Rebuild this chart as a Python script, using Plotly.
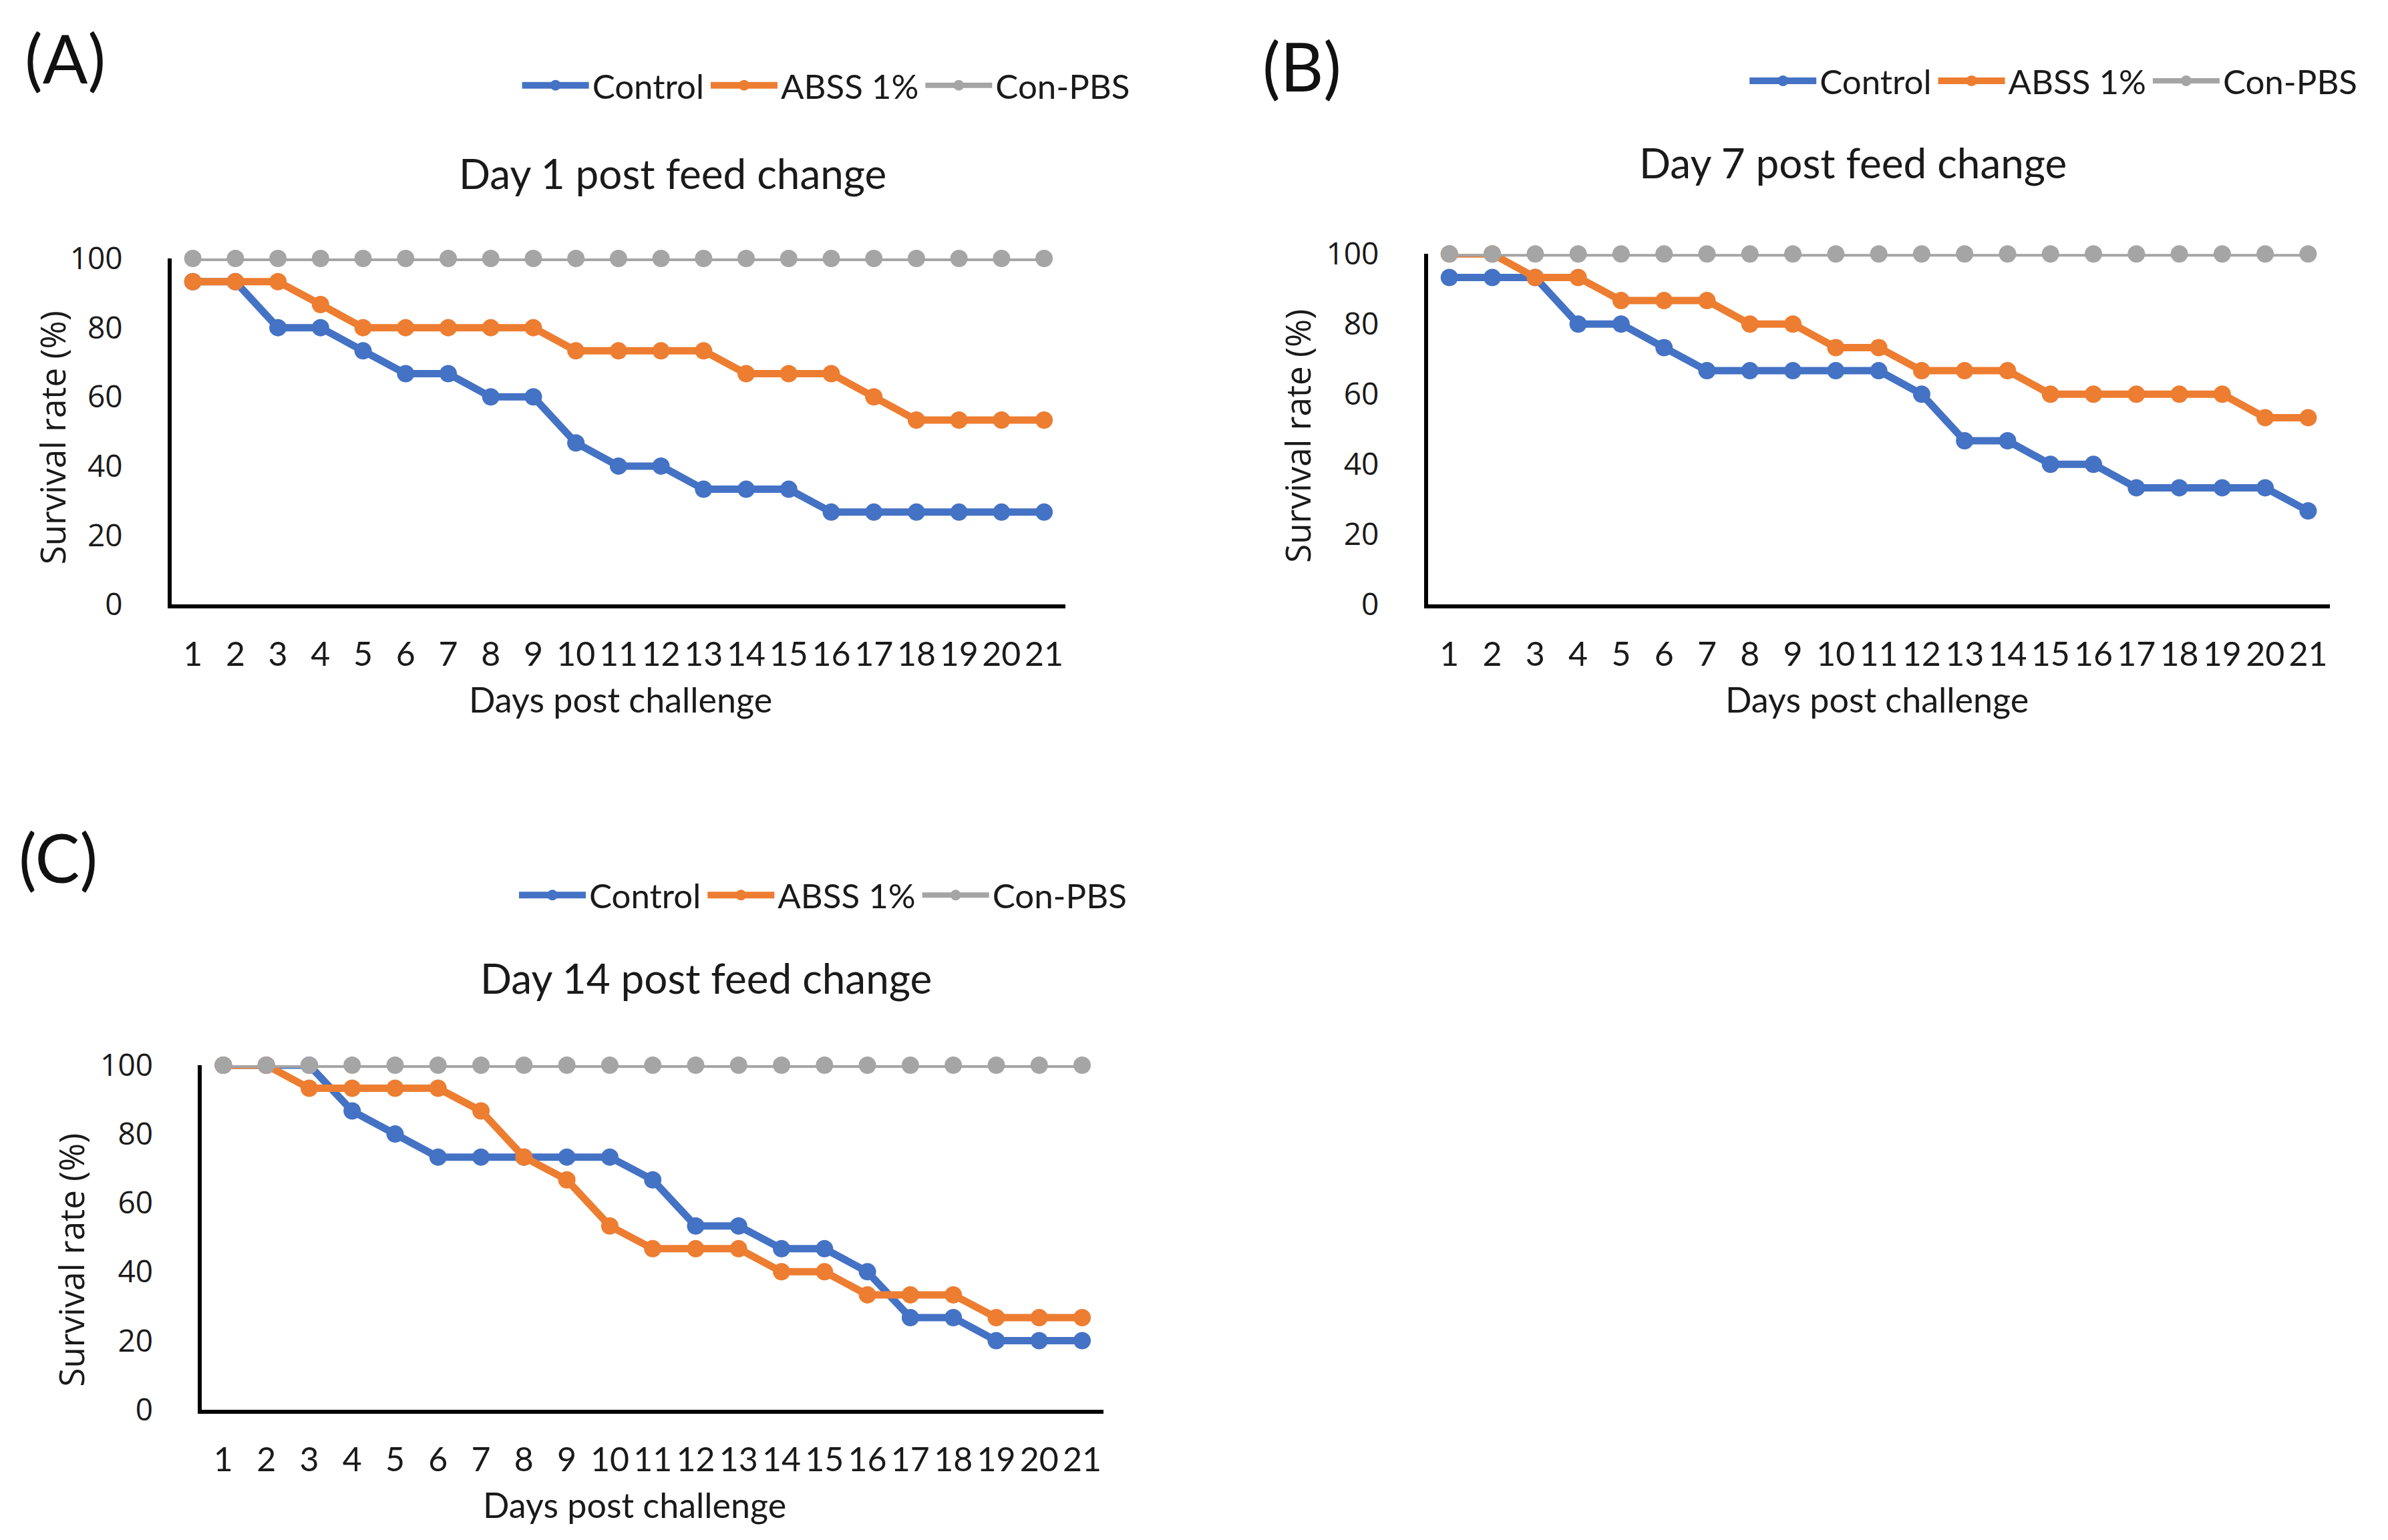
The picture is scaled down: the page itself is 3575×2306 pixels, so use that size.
import plotly.graph_objects as go

days = list(range(1, 22))
series_names = ["Control", "ABSS 1%", "Con-PBS"]
colors = ["#4472C4", "#ED7D31", "#A5A5A5"]
line_widths = [11, 11, 8]

a_control = [93.3, 93.3, 80, 80, 73.3, 66.7, 66.7, 60, 60, 46.7, 40, 40, 33.3, 33.3, 33.3, 26.7, 26.7, 26.7, 26.7, 26.7, 26.7]
a_abss = [93.3, 93.3, 93.3, 86.7, 80, 80, 80, 80, 80, 73.3, 73.3, 73.3, 73.3, 66.7, 66.7, 66.7, 60, 53.3, 53.3, 53.3, 53.3]
a_pbs = [100] * 21

b_control = [93.3, 93.3, 93.3, 80, 80, 73.3, 66.7, 66.7, 66.7, 66.7, 66.7, 60, 46.7, 46.7, 40, 40, 33.3, 33.3, 33.3, 33.3, 26.7]
b_abss = [100, 100, 93.3, 93.3, 86.7, 86.7, 86.7, 80, 80, 73.3, 73.3, 66.7, 66.7, 66.7, 60, 60, 60, 60, 60, 53.3, 53.3]
b_pbs = [100] * 21

c_control = [100, 100, 100, 86.7, 80, 73.3, 73.3, 73.3, 73.3, 73.3, 66.7, 53.3, 53.3, 46.7, 46.7, 40, 26.7, 26.7, 20, 20, 20]
c_abss = [100, 100, 93.3, 93.3, 93.3, 93.3, 86.7, 73.3, 66.7, 53.3, 46.7, 46.7, 46.7, 40, 40, 33.3, 33.3, 33.3, 26.7, 26.7, 26.7]
c_pbs = [100] * 21

panel_titles = ["Day 1 post feed change", "Day 7 post feed change", "Day 14 post feed change"]
panel_labels = ["(A)", "(B)", "(C)"]
y_ticks = [0, 20, 40, 60, 80, 100]
x_title = "Days post challenge"
y_title = "Survival rate (%)"

panels = [
    dict(data=[a_control, a_abss, a_pbs],
         xdom=[0.0696, 0.4439], ydom=[0.6149, 0.8458],
         title=(0.2794, 0.9030), legend=(0.2150, 0.9612), label=(0.0075, 0.9800),
         ytitle=(0.0198, 0.7262), xtitle=(0.2577, 0.5516)),
    dict(data=[b_control, b_abss, b_pbs],
         xdom=[0.5957, 0.9733], ydom=[0.6149, 0.8488],
         title=(0.7736, 0.9101), legend=(0.7290, 0.9642), label=(0.5260, 0.9745),
         ytitle=(0.5409, 0.7273), xtitle=(0.7839, 0.5516)),
    dict(data=[c_control, c_abss, c_pbs],
         xdom=[0.0823, 0.4599], ydom=[0.0777, 0.3075],
         title=(0.2934, 0.3657), legend=(0.2137, 0.4208), label=(0.0050, 0.4464),
         ytitle=(0.0275, 0.1777), xtitle=(0.2635, 0.0141)),
]

TXT = "Lato, Carlito, Calibri, sans-serif"
YF = "Open Sans, DejaVu Sans, sans-serif"
INK = "#1a1a1a"

fig = go.Figure()
layout = dict(
    width=3575, height=2306,
    margin=dict(l=0, r=0, t=0, b=0),
    paper_bgcolor="white", plot_bgcolor="white",
    showlegend=True,
)
annotations = []

for i, p in enumerate(panels):
    n = i + 1
    xa = "x" if n == 1 else f"x{n}"
    ya = "y" if n == 1 else f"y{n}"
    lg = "legend" if n == 1 else f"legend{n}"
    for name, vals, col, lw in zip(series_names, p["data"], colors, line_widths):
        fig.add_trace(go.Scatter(
            x=days, y=vals, name=name, mode="lines+markers",
            line=dict(color=col, width=lw),
            marker=dict(color=col, size=26),
            xaxis=xa, yaxis=ya, legend=lg, cliponaxis=False,
        ))
    xkey = "xaxis" if n == 1 else f"xaxis{n}"
    ykey = "yaxis" if n == 1 else f"yaxis{n}"
    layout[xkey] = dict(
        domain=p["xdom"], anchor=ya, range=[0.5, 21.5],
        tickmode="array", tickvals=days, ticktext=[str(d) for d in days],
        tickangle=0,
        showgrid=False, zeroline=False, showline=True, linecolor="black", linewidth=6,
        ticks="", ticklabelstandoff=26,
        tickfont=dict(family=TXT, size=50, color=INK),
    )
    layout[ykey] = dict(
        domain=p["ydom"], anchor=xa, range=[0, 100],
        tickmode="array", tickvals=y_ticks,
        showgrid=False, zeroline=False, showline=True, linecolor="black", linewidth=6,
        ticks="", ticklabelstandoff=58,
        tickfont=dict(family=YF, size=46, color=INK),
    )
    layout[lg] = dict(
        orientation="h", x=p["legend"][0], y=p["legend"][1],
        xanchor="left", yanchor="middle",
        font=dict(family=TXT, size=51, color=INK),
        bgcolor="rgba(0,0,0,0)", itemsizing="trace", itemwidth=100,
    )
    annotations.append(dict(text=panel_titles[i], x=p["title"][0], y=p["title"][1],
                            xref="paper", yref="paper", showarrow=False,
                            xanchor="center", yanchor="middle",
                            font=dict(family=TXT, size=62, color=INK)))
    annotations.append(dict(text=panel_labels[i], x=p["label"][0], y=p["label"][1],
                            xref="paper", yref="paper", showarrow=False,
                            xanchor="left", yanchor="middle",
                            font=dict(family=TXT, size=100, color="#111111")))
    annotations.append(dict(text=y_title, x=p["ytitle"][0], y=p["ytitle"][1],
                            xref="paper", yref="paper", showarrow=False, textangle=-90,
                            xanchor="center", yanchor="middle",
                            font=dict(family=YF, size=51, color=INK)))
    annotations.append(dict(text=x_title, x=p["xtitle"][0], y=p["xtitle"][1],
                            xref="paper", yref="paper", showarrow=False,
                            xanchor="center", yanchor="middle",
                            font=dict(family=TXT, size=52, color=INK)))

layout["annotations"] = annotations
fig.update_layout(**layout)
fig.write_html("out.html")
